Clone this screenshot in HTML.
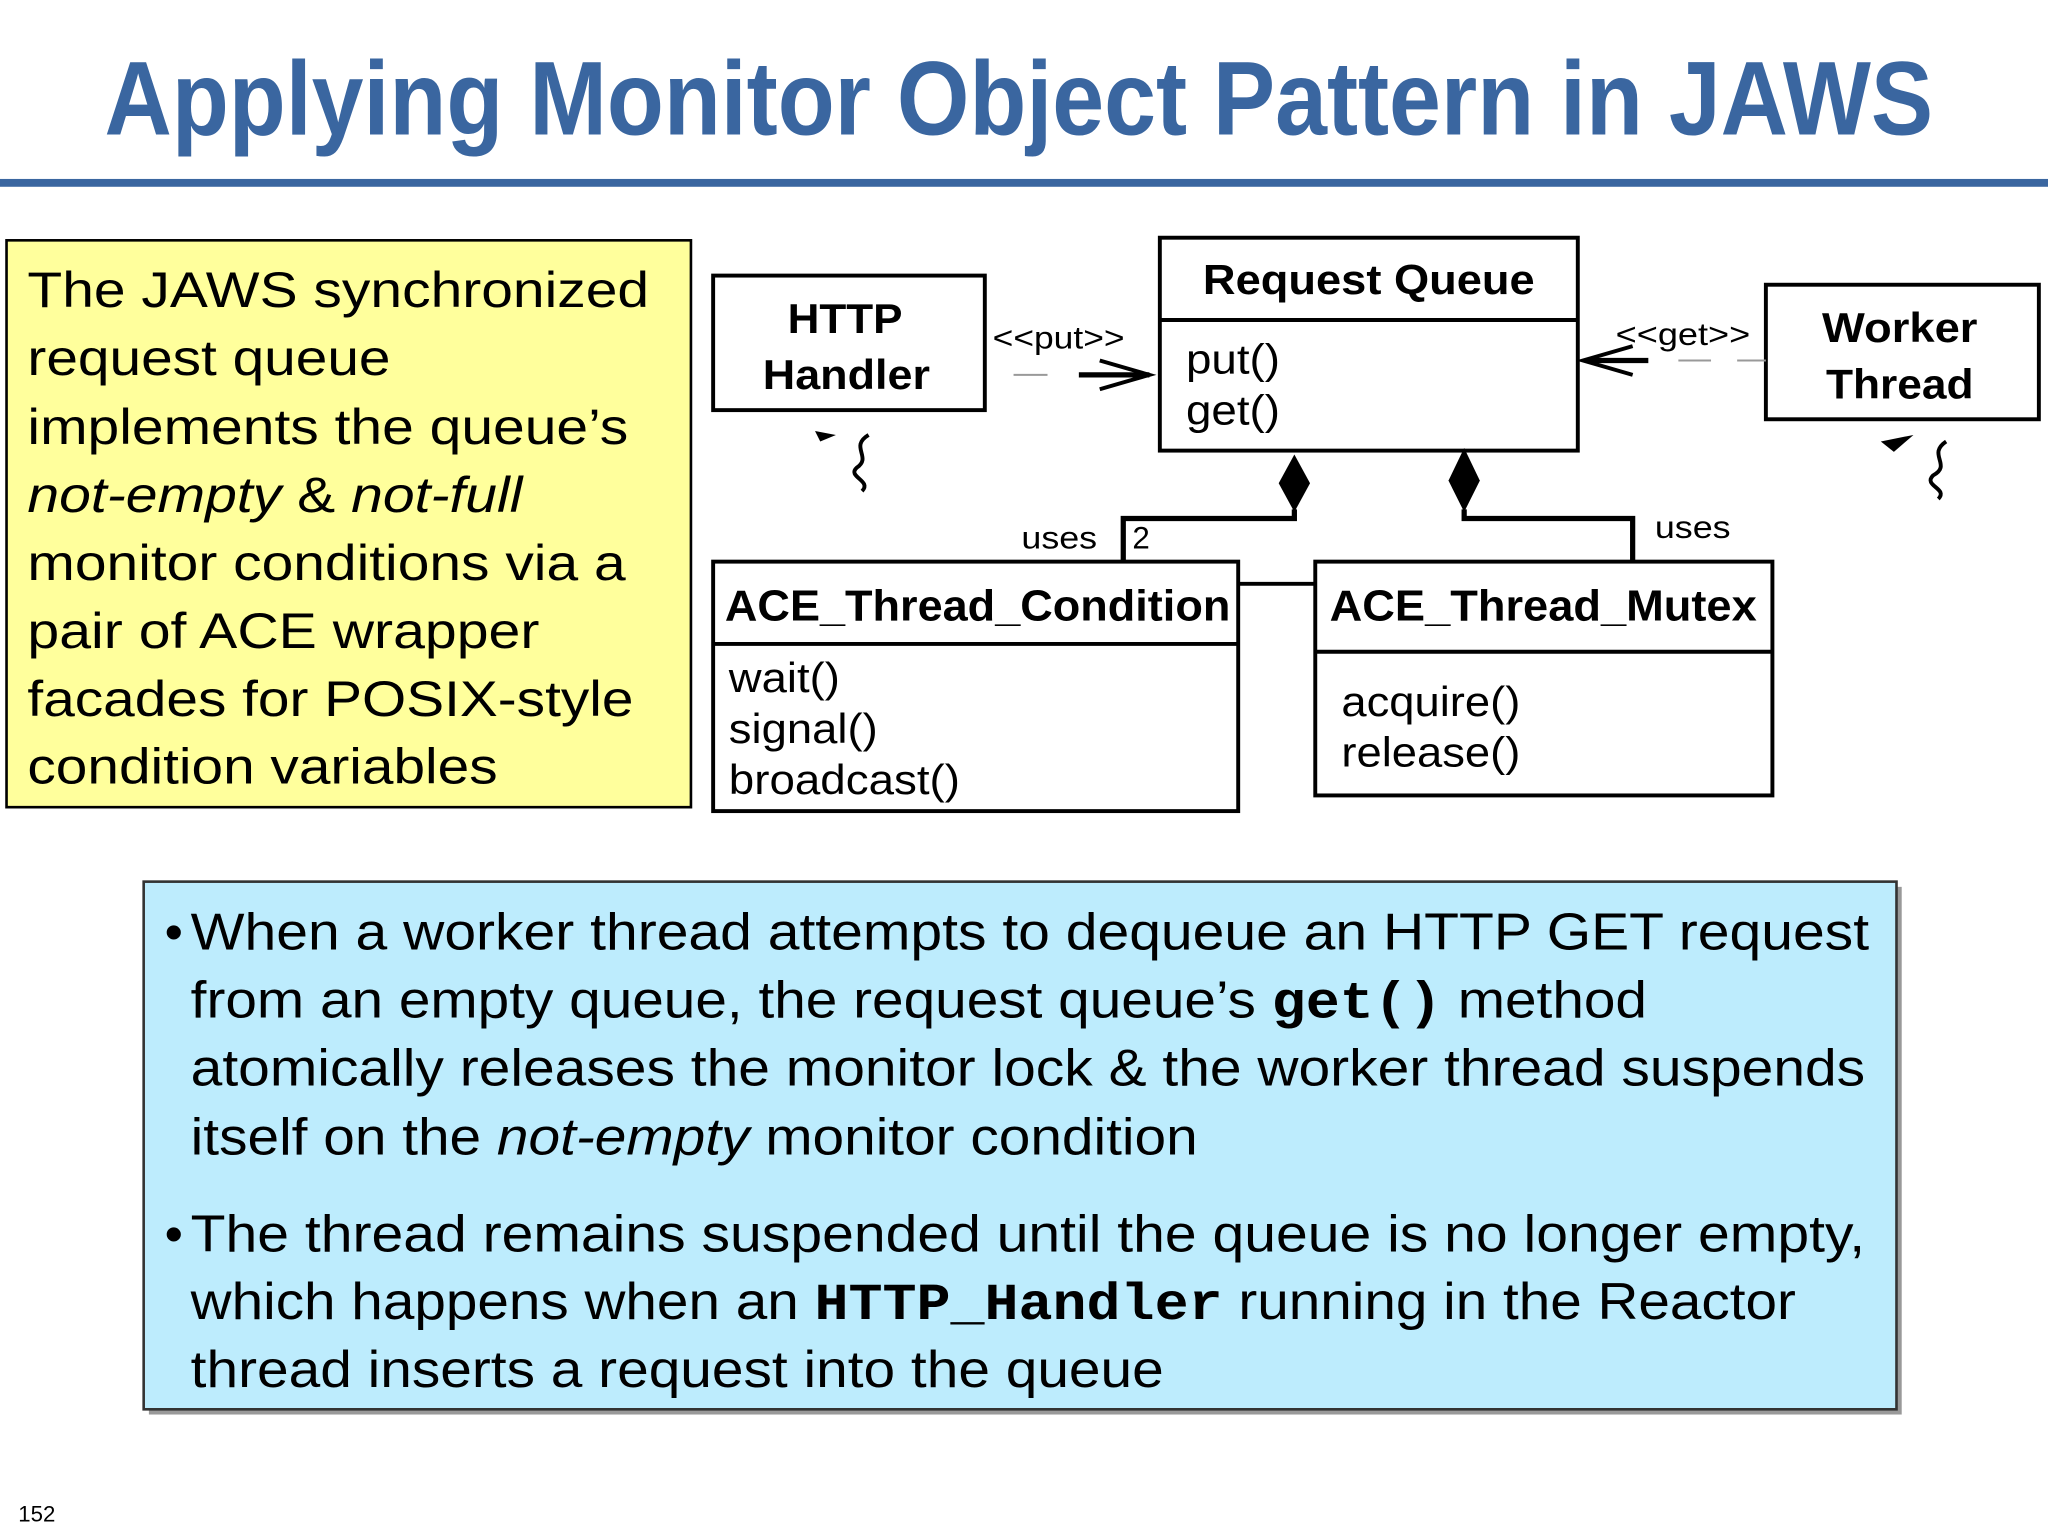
<!DOCTYPE html>
<html><head><meta charset="utf-8"><style>
html,body{margin:0;padding:0;background:#fff;}
svg{display:block;}
text{font-family:"Liberation Sans",sans-serif;}
.mono{font-family:"Liberation Mono",monospace;font-weight:bold;}
</style></head><body>
<svg width="2048" height="1536" viewBox="0 0 1568 1176" xmlns="http://www.w3.org/2000/svg">
<rect width="1568" height="1176" fill="#fff"/>
<text x="80" y="103" font-size="80" font-weight="bold" fill="#3a66a0" textLength="1400" lengthAdjust="spacingAndGlyphs">Applying Monitor Object Pattern in JAWS</text>
<rect x="0" y="137" width="1568" height="6" fill="#3a66a0"/>

<rect x="5" y="184" width="524" height="434" fill="#ffff9c" stroke="#000" stroke-width="2"/>
<g font-size="38" fill="#000">
<text x="21" y="235" textLength="476" lengthAdjust="spacingAndGlyphs">The JAWS synchronized</text>
<text x="21" y="287" textLength="278" lengthAdjust="spacingAndGlyphs">request queue</text>
<text x="21" y="340" textLength="460" lengthAdjust="spacingAndGlyphs">implements the queue’s</text>
<text x="21" y="392" textLength="379" lengthAdjust="spacingAndGlyphs"><tspan font-style="italic">not-empty</tspan> &amp; <tspan font-style="italic">not-full</tspan></text>
<text x="21" y="444" textLength="458" lengthAdjust="spacingAndGlyphs">monitor conditions via a</text>
<text x="21" y="496" textLength="392" lengthAdjust="spacingAndGlyphs">pair of ACE wrapper</text>
<text x="21" y="548" textLength="464" lengthAdjust="spacingAndGlyphs">facades for POSIX-style</text>
<text x="21" y="600" textLength="360" lengthAdjust="spacingAndGlyphs">condition variables</text>
</g>

<g fill="none" stroke="#000" stroke-width="3">
<rect x="546" y="211" width="208" height="103"/>
<rect x="888" y="182" width="320" height="163"/>
<line x1="888" y1="245" x2="1208" y2="245"/>
<rect x="1352" y="218" width="209" height="103"/>
<rect x="546" y="430" width="402" height="191"/>
<line x1="546" y1="493" x2="948" y2="493"/>
<rect x="1007" y="430" width="350" height="179"/>
<line x1="1007" y1="499" x2="1357" y2="499"/>
<polyline points="991,390 991,397 860,397 860,430" stroke-width="4"/>
<polyline points="1121,390 1121,397 1250,397 1250,430" stroke-width="4"/>
<line x1="948" y1="447" x2="1007" y2="447"/>
<line x1="826" y1="287" x2="880" y2="287" stroke-width="4"/>
<polyline points="842,276 880,287 842,298" stroke-width="3"/>
<line x1="1216" y1="276" x2="1262" y2="276" stroke-width="4"/>
<polyline points="1250,265 1212,276 1250,287" stroke-width="3"/>
</g>
<line x1="776" y1="287" x2="802" y2="287" stroke="#999" stroke-width="1.5"/>
<line x1="1285" y1="276" x2="1310" y2="276" stroke="#999" stroke-width="1.5"/>
<line x1="1330" y1="276" x2="1352" y2="276" stroke="#999" stroke-width="1.5"/>
<polygon points="991,348 1003,370 991,392 979,370" fill="#000"/>
<polygon points="1121,343 1133,368 1121,392 1109,368" fill="#000"/>

<g fill="none" stroke="#000" stroke-width="3">
<path d="M665,333 C650,342 668,350 656,358 C648,365 668,368 660,376"/>
<path d="M1490,338 C1475,348 1495,356 1480,364 C1472,372 1492,374 1484,382"/>
</g>
<polygon points="624,330 640,333 628,338" fill="#000"/>
<polygon points="1440,338 1465,333 1450,346" fill="#000"/>

<g font-size="32" font-weight="bold">
<text x="603" y="255" textLength="88" lengthAdjust="spacingAndGlyphs">HTTP</text>
<text x="584" y="298" textLength="128" lengthAdjust="spacingAndGlyphs">Handler</text>
<text x="921" y="225" textLength="254" lengthAdjust="spacingAndGlyphs">Request Queue</text>
<text x="1395" y="262" textLength="119" lengthAdjust="spacingAndGlyphs">Worker</text>
<text x="1398" y="305" textLength="113" lengthAdjust="spacingAndGlyphs">Thread</text>
</g>
<text x="555" y="475" font-size="33" font-weight="bold" textLength="387" lengthAdjust="spacingAndGlyphs">ACE_Thread_Condition</text>
<text x="1018" y="475" font-size="33" font-weight="bold" textLength="327" lengthAdjust="spacingAndGlyphs">ACE_Thread_Mutex</text>
<g font-size="32">
<text x="908" y="286" textLength="72" lengthAdjust="spacingAndGlyphs">put()</text>
<text x="908" y="325" textLength="72" lengthAdjust="spacingAndGlyphs">get()</text>
<text x="558" y="530" textLength="85" lengthAdjust="spacingAndGlyphs">wait()</text>
<text x="558" y="569" textLength="114" lengthAdjust="spacingAndGlyphs">signal()</text>
<text x="558" y="608" textLength="177" lengthAdjust="spacingAndGlyphs">broadcast()</text>
<text x="1027" y="548" textLength="137" lengthAdjust="spacingAndGlyphs">acquire()</text>
<text x="1027" y="587" textLength="137" lengthAdjust="spacingAndGlyphs">release()</text>
</g>
<g font-size="24">
<text x="760" y="267" textLength="101" lengthAdjust="spacingAndGlyphs">&lt;&lt;put&gt;&gt;</text>
<text x="1237" y="264" textLength="103" lengthAdjust="spacingAndGlyphs">&lt;&lt;get&gt;&gt;</text>
<text x="782" y="420" textLength="58" lengthAdjust="spacingAndGlyphs">uses</text>
<text x="867" y="420">2</text>
<text x="1267" y="412" textLength="58" lengthAdjust="spacingAndGlyphs">uses</text>
</g>

<rect x="114" y="679" width="1342" height="404" fill="#999"/>
<rect x="110" y="675" width="1342" height="404" fill="#bdecfd" stroke="#333" stroke-width="2"/>
<g font-size="40" fill="#000">
<text x="126" y="727">•</text>
<text x="146" y="727" textLength="1285" lengthAdjust="spacingAndGlyphs">When a worker thread attempts to dequeue an HTTP GET request</text>
<text x="146" y="779" textLength="1115" lengthAdjust="spacingAndGlyphs">from an empty queue, the request queue’s <tspan class="mono">get()</tspan> method</text>
<text x="146" y="831" textLength="1282" lengthAdjust="spacingAndGlyphs">atomically releases the monitor lock &amp; the worker thread suspends</text>
<text x="146" y="884" textLength="771" lengthAdjust="spacingAndGlyphs">itself on the <tspan font-style="italic">not-empty</tspan> monitor condition</text>
<text x="126" y="958">•</text>
<text x="146" y="958" textLength="1282" lengthAdjust="spacingAndGlyphs">The thread remains suspended until the queue is no longer empty,</text>
<text x="146" y="1010" textLength="1229" lengthAdjust="spacingAndGlyphs">which happens when an <tspan class="mono">HTTP_Handler</tspan> running in the Reactor</text>
<text x="146" y="1062" textLength="745" lengthAdjust="spacingAndGlyphs">thread inserts a request into the queue</text>
</g>
<text x="14" y="1165" font-size="17">152</text>
</svg>
</body></html>
